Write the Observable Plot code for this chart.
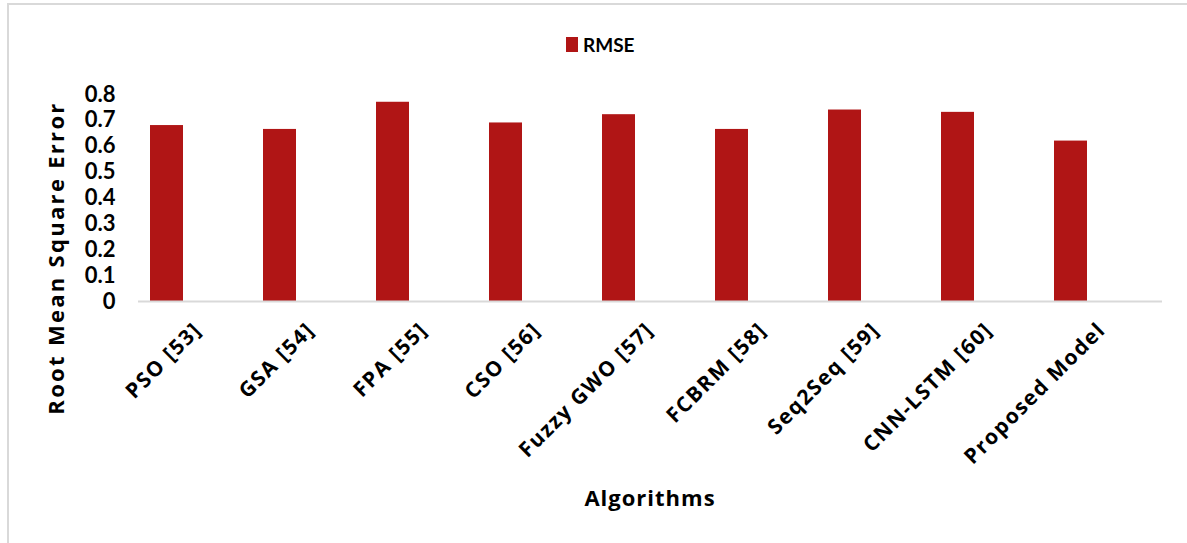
<!DOCTYPE html>
<html>
<head>
<meta charset="utf-8">
<script src="https://cdn.jsdelivr.net/npm/d3@7"></script>
<script src="https://cdn.jsdelivr.net/npm/@observablehq/plot@0.6"></script>
<style>
  html, body { margin: 0; padding: 0; background: #fff; }
  #wrap { position: relative; width: 1187px; height: 543px; overflow: hidden; font-family: Lato, "Open Sans", sans-serif; font-weight: bold; color: #000; }
  #frame { position: absolute; left: 7px; top: 3px; width: 1190px; height: 550px; border-top: 2px solid #d9d9d9; border-left: 2px solid #d9d9d9; box-sizing: border-box; }
  #legend { position: absolute; top: 33px; left: 566px; display: flex; align-items: center; font-size: 19px; }
  #legend .sw { width: 12px; height: 15px; background: #b01515; margin-right: 5px; }
  #ytitle { position: absolute; left: 55px; top: 258px; transform: translate(-50%, -50%) rotate(-90deg); white-space: nowrap; font-family: "Open Sans", Lato, sans-serif; font-size: 22px; letter-spacing: 2.3px; }
  #xtitle { position: absolute; left: 650px; top: 497px; transform: translate(-50%, -50%); white-space: nowrap; font-family: "Open Sans", Lato, sans-serif; font-size: 22px; letter-spacing: 1px; }
  #chart { position: absolute; left: 0; top: 0; }
  #chart svg g[aria-label="x-axis tick label"] text { letter-spacing: 1.5px; }
</style>
</head>
<body>
<div id="wrap">
  <div id="frame"></div>
  <div id="chart"></div>
  <div id="legend"><div class="sw"></div><span>RMSE</span></div>
  <div id="ytitle">Root Mean Square Error</div>
  <div id="xtitle">Algorithms</div>
</div>
<script>
const algorithms = ["PSO [53]", "GSA [54]", "FPA [55]", "CSO [56]", "Fuzzy GWO [57]", "FCBRM [58]", "Seq2Seq [59]", "CNN-LSTM [60]", "Proposed Model"];
const rmse = [0.68, 0.665, 0.77, 0.69, 0.722, 0.665, 0.74, 0.731, 0.62];
const yTicks = [0, 0.1, 0.2, 0.3, 0.4, 0.5, 0.6, 0.7, 0.8];
const yTickLabels = ["0", "0.1", "0.2", "0.3", "0.4", "0.5", "0.6", "0.7", "0.8"];

const data = algorithms.map((a, i) => ({algorithm: a, value: rmse[i]}));
const barColor = "#b01515";

const chart = Plot.plot({
  width: 1187,
  height: 543,
  marginLeft: 138,
  marginRight: 25,
  marginTop: 94,
  marginBottom: 242,
  style: {fontFamily: "Lato, 'Open Sans', sans-serif", fontWeight: "bold", color: "#000", background: "transparent"},
  x: {type: "band", domain: algorithms, range: [105.6, 1130.4], paddingInner: 0.71, paddingOuter: 0.355, label: null},
  y: {domain: [0, 0.8], label: null},
  marks: [
    Plot.barY(data, {x: "algorithm", y: "value", fill: barColor}),
    Plot.ruleY([0], {stroke: "#d9d9d9", strokeWidth: 2}),
    Plot.axisY({ticks: yTicks, tickFormat: (d) => yTickLabels[yTicks.indexOf(d)], tickSize: 0, tickPadding: 23, fontSize: 22, fontWeight: "bold", label: null}),
    Plot.axisX({tickRotate: -45, tickSize: 0, tickPadding: 0, fontSize: 21, fontWeight: "bold", fontFamily: "'Open Sans', Lato, sans-serif", label: null, dx: 31, dy: 25})
  ]
});
document.getElementById("chart").appendChild(chart);
</script>
</body>
</html>
